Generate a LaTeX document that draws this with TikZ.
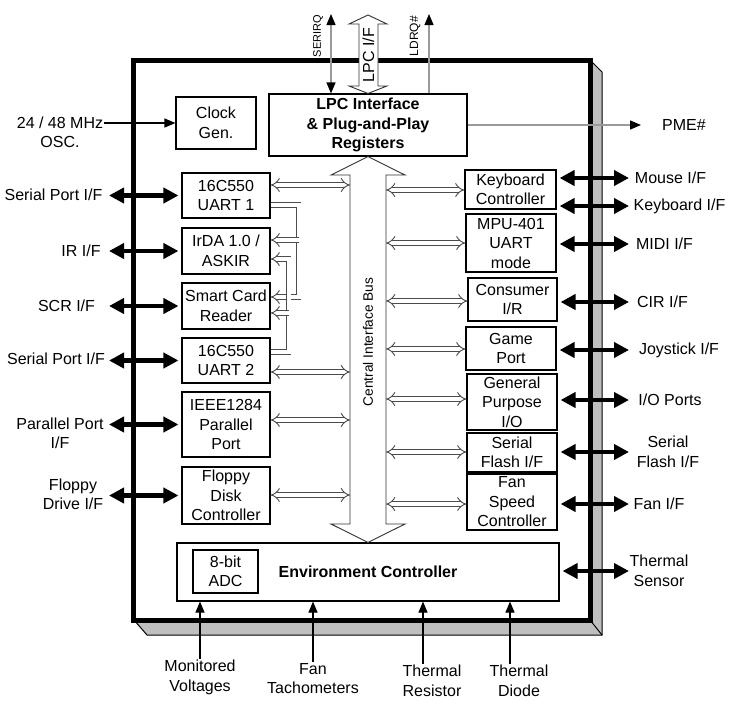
\documentclass[tikz,border=0pt]{standalone}
\usepackage{fontspec}
\setmainfont{Liberation Sans}
\usetikzlibrary{arrows.meta, positioning, calc}

\begin{document}
\begin{tikzpicture}[
  x=1pt, y=-1pt,
  font=\fontsize{16}{19.5}\selectfont,
  blk/.style={rectangle, draw, line width=1.1pt, fill=white, align=center, inner sep=0pt},
  lbl/.style={align=center, inner sep=1pt},
  ext/.style={line width=4.5pt, shorten >=3pt, {Triangle[length=15pt,width=15pt]}-{Triangle[length=15pt,width=15pt]}},
  sig/.style={line width=1.1pt, -{Triangle[length=11pt,width=9pt]}},
  gsig/.style={draw=black!40, line width=1.3pt, -{Triangle[length=11pt,width=9pt,color=black]}},
  link/.style={draw=black!70, line width=0.9pt, double=white, double distance=4pt, {Implies}-{Implies}},
  tolink/.style={link, -{Implies}},
  hollow/.style={draw=black!80, line width=0.9pt, fill=white},
]
\useasboundingbox (0,0) rectangle (730,704);

% package outline
\fill[black!25, draw=black, line width=1pt] (590,60) -- (602,72) -- (602,635) -- (147,635) -- (134,620) -- (590,620) -- cycle;
\draw[line width=1pt] (590,620) -- (602,635);
\node[draw, line width=5pt, fill=white, minimum width=457pt, minimum height=560pt, inner sep=0pt] (chip) at (361.5,340) {};

% blocks
\node[blk, minimum width=80pt, minimum height=52pt] (clk) at (216,123) {Clock\\Gen.};
\node[blk, minimum width=198pt, minimum height=62pt, font=\fontsize{16}{19.5}\selectfont\bfseries] (lpc) at (368,125) {LPC Interface\\\& Plug-and-Play\\Registers};
\node[blk, minimum width=88pt, minimum height=45pt] (uart1) at (226,195.5) {16C550\\UART 1};
\node[blk, minimum width=88pt, minimum height=46pt] (irda) at (226,251) {IrDA 1.0 /\\ASKIR};
\node[blk, minimum width=88pt, minimum height=46pt] (scr) at (226,306) {Smart Card\\Reader};
\node[blk, minimum width=88pt, minimum height=45pt] (uart2) at (226,360.5) {16C550\\UART 2};
\node[blk, minimum width=88pt, minimum height=65pt] (ieee) at (226,424.5) {IEEE1284\\Parallel\\Port};
\node[blk, minimum width=88pt, minimum height=57pt] (fdc) at (226,495.5) {Floppy\\Disk\\Controller};
\node[blk, minimum width=91pt, minimum height=39pt] (kbc) at (510.5,189.5) {Keyboard\\Controller};
\node[blk, minimum width=90pt, minimum height=58pt] (mpu) at (511,243) {MPU-401\\UART\\mode};
\node[blk, minimum width=89pt, minimum height=43pt] (cir) at (512.5,299.5) {Consumer\\I/R};
\node[blk, minimum width=90pt, minimum height=43pt] (game) at (511,348.5) {Game\\Port};
\node[blk, minimum width=90pt, minimum height=56pt] (gpio) at (512,402) {General\\Purpose\\I/O};
\node[blk, minimum width=90pt, minimum height=39pt] (sflash) at (512,452.5) {Serial\\Flash I/F};
\node[blk, minimum width=90pt, minimum height=56pt] (fan) at (512,502) {Fan\\Speed\\Controller};
\node[blk, minimum width=382pt, minimum height=58pt, font=\fontsize{16}{19.5}\selectfont\bfseries] (env) at (368,572) {Environment Controller};
\node[blk, minimum width=65pt, minimum height=43pt] (adc) at (225.5,571.5) {8-bit\\ADC};

% central bus
\draw[hollow] (lpc.south) -- (405,175) -- (386,175) -- (386,524) -- (405,524) -- (env.north) -- (331,524) -- (350,524) -- (350,175) -- (331,175) -- cycle;
\node[rotate=90, font=\fontsize{13.7}{16}\selectfont] (cib) at (368,342) {Central Interface Bus};
\coordinate (busL) at (350,0);
\coordinate (busR) at (386,0);

% LPC side
\draw[hollow] (368,15) -- (387,24) -- (378,24) -- (378,86) -- (387,86) -- (lpc.north) -- (349,86) -- (359,86) -- (359,24) -- (349,24) -- cycle;
\node[rotate=90] (lpcif) at (368.5,55) {LPC I/F};
\coordinate (irqtop) at (331,14);
\draw[gsig, {Triangle[length=11pt,width=9pt,color=black]}-{Triangle[length=11pt,width=9pt,color=black]}] (irqtop) -- (irqtop |- lpc.north);
\node[rotate=90, font=\fontsize{11}{13}\selectfont] (serirq) at (318,36) {SERIRQ};
\coordinate (drqtop) at (429,14);
\draw[gsig] (drqtop |- lpc.north) -- (drqtop);
\node[rotate=90, font=\fontsize{12}{14}\selectfont] (ldrq) at (415,36) {LDRQ\#};
\coordinate (pmeend) at (641,125);
\draw[gsig] (lpc.east) -- (pmeend);
\node[lbl, right=20pt of pmeend] (pme) {PME\#};

% clock input
\node[lbl] (osc) at (60,132.5) {24 / 48 MHz\\OSC.};
\draw[sig] (clk.west -| osc.east) -- (clk.west);

% links to the bus
\draw[link] (uart1.east |- 0,185) -- (busL |- 0,185);
\draw[link] (uart2.east |- 0,372) -- (busL |- 0,372);
\draw[link] (ieee.east |- 0,420) -- (busL |- 0,420);
\draw[link] (fdc.east |- 0,495) -- (busL |- 0,495);
\draw[link] (busR |- 0,190) -- (kbc.west |- 0,190);
\draw[link] (busR |- 0,243) -- (mpu.west |- 0,243);
\draw[link] (busR |- 0,301) -- (cir.west |- 0,301);
\draw[link] (busR |- 0,349) -- (game.west |- 0,349);
\draw[link] (busR |- 0,399) -- (gpio.west |- 0,399);
\draw[link] (busR |- 0,452) -- (sflash.west |- 0,452);
\draw[link] (busR |- 0,504) -- (fan.west |- 0,504);

% UART pin sharing
\draw[tolink] (uart1.east |- 0,205) -- ++(28,0) |- (scr.east |- 0,297);
\draw[tolink] (uart1.east |- 0,240) ++(28,0) -- (irda.east |- 0,240);
\draw[tolink] (uart2.east |- 0,352) -- ++(18,0) |- (irda.east |- 0,259);
\draw[tolink] (uart2.east |- 0,313) ++(18,0) -- (scr.east |- 0,313);

% left pins
\coordinate (lcol) at (109,0);
\node[lbl] (sp1) at (53.5,195) {Serial Port I/F};
\node[lbl] (irif) at (81,251) {IR I/F};
\node[lbl] (scrif) at (66.5,306) {SCR I/F};
\node[lbl] (sp2) at (56,359) {Serial Port I/F};
\node[lbl] (ppif) at (60,433.5) {Parallel Port\\I/F};
\node[lbl] (fdif) at (73,494.5) {Floppy\\Drive I/F};
\draw[ext] (uart1.west -| lcol) -- (uart1.west);
\draw[ext] (irda.west -| lcol) -- (irda.west);
\draw[ext] (scr.west -| lcol) -- (scr.west);
\draw[ext] (uart2.west -| lcol) -- (uart2.west);
\draw[ext] (ieee.west -| lcol) -- (ieee.west);
\draw[ext] (fdc.west -| lcol) -- (fdc.west);

% right pins
\coordinate (rcol) at (629,0);
\node[lbl] (mouse) at (670.5,178) {Mouse I/F};
\node[lbl] (kbd) at (679.5,206) {Keyboard I/F};
\node[lbl] (midi) at (664.5,244) {MIDI I/F};
\node[lbl] (cirif) at (662.5,302) {CIR I/F};
\node[lbl] (joy) at (679,350) {Joystick I/F};
\node[lbl] (iop) at (670,400) {I/O Ports};
\node[lbl] (sfl) at (668,452) {Serial\\Flash I/F};
\node[lbl] (fanif) at (659,504) {Fan I/F};
\node[lbl] (ts) at (659,571) {Thermal\\Sensor};
\draw[ext] (mouse -| rcol) -- (mouse -| kbc.east);
\draw[ext] (kbd -| rcol) -- (kbd -| kbc.east);
\draw[ext] (midi -| rcol) -- (midi -| mpu.east);
\draw[ext] (cirif -| rcol) -- (cirif -| cir.east);
\draw[ext] (joy -| rcol) -- (joy -| game.east);
\draw[ext] (iop -| rcol) -- (iop -| gpio.east);
\draw[ext] (sfl -| rcol) -- (sfl -| sflash.east);
\draw[ext] (fanif -| rcol) -- (fanif -| fan.east);
\draw[ext] (ts -| rcol) -- (ts -| env.east);

% sensor inputs
\node[lbl, anchor=north] (mv) at (200,659) {Monitored\\Voltages};
\node[lbl, anchor=north] (ft) at (313,662) {Fan\\Tachometers};
\node[lbl, anchor=north] (tr) at (432,664) {Thermal\\Resistor};
\node[lbl, anchor=north] (td) at (519,664) {Thermal\\Diode};
\draw[sig] (mv.north) -- (mv.north |- env.south);
\draw[sig] (ft.north) -- (ft.north |- env.south);
\draw[sig] ($(tr.north)+(-9,0)$) -- ($(tr.north |- env.south)+(-9,0)$);
\draw[sig] ($(td.north)+(-9,0)$) -- ($(td.north |- env.south)+(-9,0)$);
\end{tikzpicture}
\end{document}
